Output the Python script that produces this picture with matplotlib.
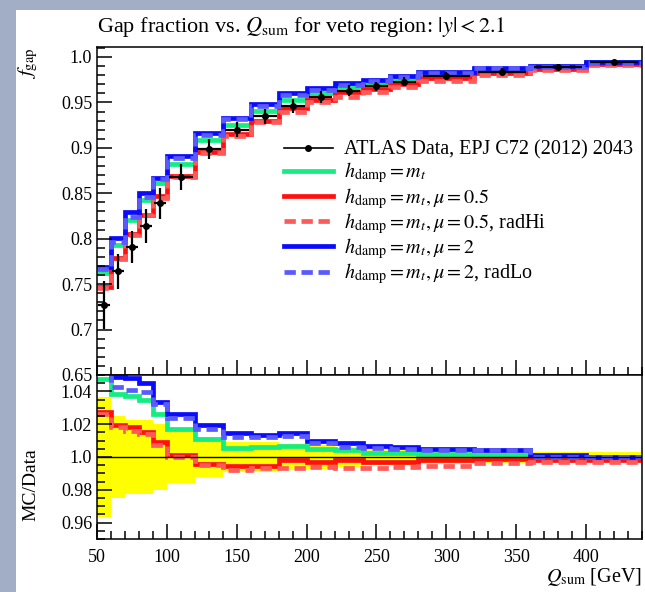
import numpy as np
import matplotlib
matplotlib.use("Agg")
import matplotlib.pyplot as plt
from matplotlib.patches import Rectangle
from matplotlib.lines import Line2D
from matplotlib.ticker import MultipleLocator, FuncFormatter

plt.rcParams['font.family'] = ['Liberation Serif', 'DejaVu Serif']
plt.rcParams['mathtext.fontset'] = 'stix'

# Q_sum binning [GeV]
edges = np.array([50, 60, 70, 80, 90, 100, 120, 140, 160, 180, 200, 220,
                  240, 260, 280, 320, 360, 400, 440])

# ATLAS gap fraction and uncertainty
data = np.array([0.727, 0.764, 0.791, 0.814, 0.839, 0.868, 0.899, 0.920, 0.935,
                 0.946, 0.956, 0.963, 0.968, 0.973, 0.979, 0.984, 0.989, 0.994])
data_err = np.array([0.0265, 0.019, 0.018, 0.0183, 0.0168, 0.014, 0.011, 0.0083,
                     0.0083, 0.0075, 0.007, 0.006, 0.005, 0.0045, 0.004, 0.0035,
                     0.003, 0.003])

# Powheg+Pythia predictions
nominal = np.array([0.7617, 0.7935, 0.8203, 0.8425, 0.8612, 0.8826, 0.9086, 0.9249,
                    0.9405, 0.9523, 0.9604, 0.9673, 0.9701, 0.9751, 0.9810, 0.9852,
                    0.9892, 0.9942])
mu05 = np.array([0.7470, 0.7788, 0.8056, 0.8265, 0.8468, 0.8690, 0.8950, 0.9149,
                 0.9299, 0.9441, 0.9531, 0.9611, 0.9653, 0.9703, 0.9772, 0.9826,
                 0.9872, 0.9920])
mu05_radhi = np.array([0.7459, 0.7778, 0.8037, 0.8256, 0.8449, 0.8680, 0.8945, 0.9127,
                       0.9285, 0.9394, 0.9503, 0.9564, 0.9613, 0.9669, 0.9736, 0.9803,
                       0.9862, 0.9910])
mu2 = np.array([0.7692, 0.8012, 0.8290, 0.8506, 0.8671, 0.8910, 0.9164, 0.9332,
                0.9478, 0.9599, 0.9656, 0.9710, 0.9745, 0.9787, 0.9836, 0.9882,
                0.9902, 0.9942])
mu2_radlo = np.array([0.7663, 0.7965, 0.8234, 0.8462, 0.8659, 0.8888, 0.9146, 0.9313,
                      0.9462, 0.9580, 0.9639, 0.9691, 0.9733, 0.9776, 0.9829, 0.9879,
                      0.9892, 0.9938])

labels = [r'$h_\mathrm{damp} = m_t$',
          r'$h_\mathrm{damp} = m_t, \mu = 0.5$',
          r'$h_\mathrm{damp} = m_t, \mu = 0.5$, radHi',
          r'$h_\mathrm{damp} = m_t, \mu = 2$',
          r'$h_\mathrm{damp} = m_t, \mu = 2$, radLo']
data_label = 'ATLAS Data, EPJ C72 (2012) 2043'

mc = [nominal, mu05, mu05_radhi, mu2, mu2_radlo]
colors = ['#14ec84', '#ff1010', '#ff5a5a', '#0a0aff', '#5a5aff']
styles = ['-', '-', '--', '-', '--']
dash = (0, (2.4, 1.2))

fig = plt.figure(figsize=(6.45, 5.92), dpi=100)
fig.patch.set_facecolor('#a2aec5')
fig.patches.append(Rectangle((16 / 645, 0), 1, 1 - 10 / 592, transform=fig.transFigure,
                             facecolor='white', edgecolor='none', zorder=-10))

ax = fig.add_axes([0.1504, 0.3666, 0.8449, 0.5540])
rax = fig.add_axes([0.1504, 0.0895, 0.8449, 0.2771], sharex=ax)

centers = 0.5 * (edges[1:] + edges[:-1])
halfw = 0.5 * np.diff(edges)

lw = 3.4
for vals, col, ls in zip(mc, colors, styles):
    kw = dict(color=col, lw=lw, linestyle=dash if ls == '--' else '-', baseline=None)
    ax.stairs(vals, edges, **kw)
    rax.stairs(vals / data, edges, **kw)

ax.errorbar(centers, data, yerr=data_err, xerr=halfw * 0.85, fmt='o', color='black',
            ms=4, elinewidth=1.6, capsize=0, zorder=5)

# data uncertainty band in the ratio
rel = data_err / data
rax.stairs(1 + rel, edges, baseline=1 - rel, fill=True, color='#ffff00', zorder=0.5)
rax.stairs(data / data, edges, color='black', lw=1.0, zorder=1, baseline=None)

ax.set_xlim(50, 440)
ax.set_ylim(0.65, 1.011)
rax.set_ylim(0.95, 1.05)


def fmt(v, pos):
    s = '%g' % round(v, 4)
    if '.' not in s:
        s += '.0'
    return s


for a in (ax, rax):
    a.xaxis.set_major_locator(MultipleLocator(50))
    a.xaxis.set_minor_locator(MultipleLocator(10))
    a.tick_params(which='both', direction='in', top=False, right=False,
                  labelsize=13, width=1.1, color='black')
    a.tick_params(which='major', length=11)
    a.tick_params(which='minor', length=5.5)
    a.yaxis.set_major_formatter(FuncFormatter(fmt))
    for sp in a.spines.values():
        sp.set_linewidth(1.1)

ax.yaxis.set_major_locator(MultipleLocator(0.05))
ax.yaxis.set_minor_locator(MultipleLocator(0.01))
rax.yaxis.set_major_locator(MultipleLocator(0.02))
rax.yaxis.set_minor_locator(MultipleLocator(0.005))
ax.tick_params(labelbottom=False)
rax.tick_params(axis='x', pad=7)

ax.set_title(r'Gap fraction vs. $Q_\mathrm{sum}$ for veto region: $|y| < 2.1$',
             loc='left', fontsize=16, pad=11)
ax.set_ylabel(r'$f_\mathrm{gap}$', fontsize=15, loc='top')
ax.yaxis.set_label_coords(-0.105, 1.0)
rax.set_ylabel('MC/Data', fontsize=14)
rax.yaxis.set_label_coords(-0.105, 0.33)
rax.set_xlabel(r'$Q_\mathrm{sum}$ [GeV]', fontsize=14.5, loc='right', labelpad=0)

handles = [Line2D([], [], color='black', lw=1.2, marker='o', ms=4)]
for col, ls in zip(colors, styles):
    handles.append(Line2D([], [], color=col, lw=lw, linestyle=dash if ls == '--' else '-'))
ax.legend(handles, [data_label] + labels, loc='upper left',
          bbox_to_anchor=(0.325, 0.745), frameon=False, fontsize=14.5,
          handlelength=2.4, handletextpad=0.55, labelspacing=0.02, borderpad=0)

fig.savefig('out.png', dpi=100, facecolor=fig.get_facecolor())
